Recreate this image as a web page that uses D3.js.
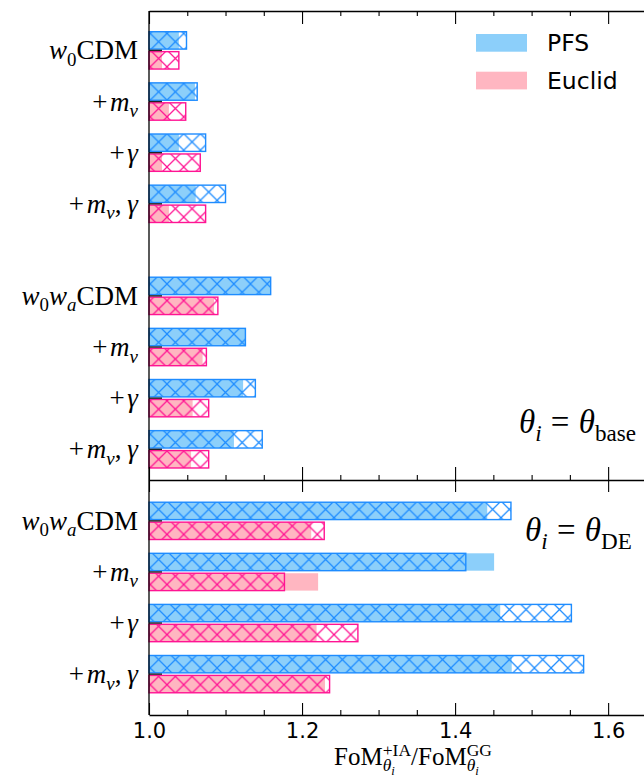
<!DOCTYPE html>
<html>
<head>
<meta charset="utf-8">
<script src="https://cdn.jsdelivr.net/npm/d3@7"></script>
<style>
  body { margin: 0; background: #fff; }
  svg { display: block; }
</style>
</head>
<body>
<svg id="chart" width="644" height="783"></svg>
<script>
// ---- data -------------------------------------------------------------
// rows, top to bottom
const modelsBase = ["w0CDM", "+mnu", "+gamma", "+mnu,gamma", "w0waCDM", "+mnu", "+gamma", "+mnu,gamma"];
const modelsDE = ["w0waCDM", "+mnu", "+gamma", "+mnu,gamma"];
const surveys = ["PFS", "Euclid"];

// FoM(+IA)/FoM(GG), theta_i = theta_base
// "solid" = filled bar, "hatch" = hatched outlined bar
const pfsSolidBase    = [1.039, 1.060, 1.039, 1.061, 1.159, 1.126, 1.123, 1.111];
const pfsHatchBase    = [1.049, 1.063, 1.074, 1.100, 1.159, 1.126, 1.139, 1.148];
const euclidSolidBase = [1.017, 1.026, 1.017, 1.026, 1.085, 1.070, 1.057, 1.055];
const euclidHatchBase = [1.039, 1.048, 1.067, 1.074, 1.090, 1.075, 1.078, 1.078];

// FoM(+IA)/FoM(GG), theta_i = theta_DE
const pfsSolidDE    = [1.442, 1.451, 1.459, 1.474];
const pfsHatchDE    = [1.473, 1.414, 1.552, 1.568];
const euclidSolidDE = [1.212, 1.221, 1.219, 1.230];
const euclidHatchDE = [1.229, 1.177, 1.273, 1.236];

// short reference dash drawn between the two bars of each row
const refDash = 1.017;

const xTicks = [1.0, 1.2, 1.4, 1.6];
const xMinorTicks = [1.05, 1.10, 1.15, 1.25, 1.30, 1.35, 1.45, 1.50, 1.55, 1.65];

// ---- styling ----------------------------------------------------------
const SERIF = "'Liberation Serif', 'Times New Roman', serif";
const SANS = "'DejaVu Sans', sans-serif";
const colors = {
  PFS:    { fill: "#8ccffa", edge: "#1e8cff" },
  Euclid: { fill: "#ffb6c1", edge: "#ff1493" }
};
const HATCH = 16.7;
const BAR_H = 0.34, BAR_GAP = 0.025;

const svg = d3.select("#chart");
const defs = svg.append("defs");

// cross-hatch pattern per survey
surveys.forEach(s => {
  const p = defs.append("pattern")
    .attr("id", "hatch-" + s)
    .attr("patternUnits", "userSpaceOnUse")
    .attr("width", HATCH).attr("height", HATCH);
  p.append("path")
    .attr("d", `M0,0L${HATCH},${HATCH}M0,${HATCH}L${HATCH},0`)
    .attr("stroke", colors[s].edge)
    .attr("stroke-width", 1.25)
    .attr("fill", "none");
});

// ---- scales -----------------------------------------------------------
const x = d3.scaleLinear().domain([1.0, 1.69]).range([149, 677]);
const yTopPanel = d3.scaleLinear().domain([-0.77, 8.4]).range([11, 480]);
const yBotPanel = d3.scaleLinear().domain([-0.8, 3.8]).range([480, 715]);

// ---- math-like labels -------------------------------------------------
const P = (t, it = false, o = {}) => Object.assign({ t, it }, o);
const mathLabels = {
  "w0CDM":      [{ base: [P("w", true)], sub: [P("0")] }, { base: [P("CDM")] }],
  "w0waCDM":    [{ base: [P("w", true)], sub: [P("0")] }, { base: [P("w", true)], sub: [P("a", true)] }, { base: [P("CDM")] }],
  "+mnu":       [{ base: [P("+", false, { post: 0.1 }), P("m", true)], sub: [P("ν", true)] }],
  "+gamma":     [{ base: [P("+", false, { post: 0.1 }), P("γ", true)] }],
  "+mnu,gamma": [{ base: [P("+", false, { post: 0.1 }), P("m", true)], sub: [P("ν", true)] },
                 { base: [P(",", false, { post: 0.22 }), P("γ", true)] }]
};
const thetaBase = [{ base: [P("θ", true)], sub: [P("i", true)] },
                   { base: [P("=", false, { pre: 0.28, post: 0.28 }), P("θ", true)], sub: [P("base")] }];
const thetaDE = [{ base: [P("θ", true)], sub: [P("i", true)] },
                 { base: [P("=", false, { pre: 0.28, post: 0.28 }), P("θ", true)], sub: [P("DE")] }];
const xLabelMath = [
  { base: [P("FoM")], sub: [P("θ", true), P("i", true, { deep: true })], sup: [P("+IA")] },
  { base: [P("/FoM")], sub: [P("θ", true), P("i", true, { deep: true })], sup: [P("GG")] }
];

function mathText(parent, tokens, xPos, baseline, size, anchor) {
  const g = parent.append("g").attr("transform", `translate(${xPos},${baseline})`);
  const text = g.append("text").attr("font-family", SERIF).attr("fill", "#000");
  let cursor = 0;
  const run = (pieces, x0, dy, fs) => {
    let cx = x0;
    pieces.forEach(p => {
      const f = p.deep ? fs * 0.72 : fs;
      const d = p.deep ? fs * 0.22 : 0;
      cx += (p.pre || 0) * fs;
      const ts = text.append("tspan")
        .attr("x", cx).attr("y", dy + d)
        .attr("font-size", f)
        .attr("font-style", p.it ? "italic" : "normal")
        .text(p.t);
      cx += ts.node().getComputedTextLength() + (p.post || 0) * fs;
    });
    return cx - x0;
  };
  tokens.forEach(tok => {
    cursor += run(tok.base || [], cursor, 0, size);
    const subW = tok.sub ? run(tok.sub, cursor, size * 0.24, size * 0.7) : 0;
    const supW = tok.sup ? run(tok.sup, cursor, -size * 0.37, size * 0.7) : 0;
    cursor += Math.max(subW, supW);
  });
  const shift = anchor === "end" ? -cursor : anchor === "middle" ? -cursor / 2 : 0;
  text.attr("transform", `translate(${shift},0)`);
  return g;
}

// ---- bars -------------------------------------------------------------
function drawPanel(y, models, rowPos, series) {
  const g = svg.append("g");
  const rows = models.map((m, i) => ({
    model: m,
    pos: rowPos(i),
    bars: [
      { survey: "PFS", solid: series.pfsSolid[i], hatch: series.pfsHatch[i], off: -(BAR_GAP + BAR_H) },
      { survey: "Euclid", solid: series.euclidSolid[i], hatch: series.euclidHatch[i], off: BAR_GAP }
    ]
  }));
  const barPx = y(BAR_H) - y(0);

  const row = g.selectAll("g.row").data(rows).join("g").attr("class", "row");

  const bar = row.selectAll("g.bar").data(r => r.bars.map(b => Object.assign({ pos: r.pos }, b)))
    .join("g").attr("class", "bar");

  bar.append("rect")
    .attr("x", x(1.0))
    .attr("y", d => y(d.pos + d.off))
    .attr("width", d => x(d.solid) - x(1.0))
    .attr("height", barPx)
    .attr("fill", d => colors[d.survey].fill);

  bar.append("rect")
    .attr("x", x(1.0))
    .attr("y", d => y(d.pos + d.off))
    .attr("width", d => x(d.hatch) - x(1.0))
    .attr("height", barPx)
    .attr("fill", d => `url(#hatch-${d.survey})`)
    .attr("stroke", d => colors[d.survey].edge)
    .attr("stroke-width", 1.4);

  row.append("line")
    .attr("x1", x(1.0)).attr("x2", x(refDash))
    .attr("y1", d => y(d.pos)).attr("y2", d => y(d.pos))
    .attr("stroke", "#222").attr("stroke-width", 1.4);

  // model labels on the left
  rows.forEach(r => mathText(svg, mathLabels[r.model], 138, y(r.pos) + 9, 27, "end"));
  return g;
}

drawPanel(yTopPanel, modelsBase, i => i + (i >= 4 ? 0.8 : 0), {
  pfsSolid: pfsSolidBase, pfsHatch: pfsHatchBase,
  euclidSolid: euclidSolidBase, euclidHatch: euclidHatchBase
});
drawPanel(yBotPanel, modelsDE, i => i, {
  pfsSolid: pfsSolidDE, pfsHatch: pfsHatchDE,
  euclidSolid: euclidSolidDE, euclidHatch: euclidHatchDE
});

// ---- axes -------------------------------------------------------------
function axis(gen, yPos, values, size, withLabels, keepDomain) {
  const a = gen(x).tickValues(values).tickSize(-size).tickSizeOuter(0);
  a.tickFormat(withLabels ? d3.format(".1f") : () => "");
  const g = svg.append("g").attr("transform", `translate(0,${yPos})`).call(a);
  if (!keepDomain) g.select(".domain").remove();
  g.selectAll(".domain").attr("stroke", "#000").attr("stroke-width", 1.3);
  g.selectAll(".tick line").attr("stroke", "#000").attr("stroke-width", 1.1);
  g.selectAll("text").attr("font-family", SANS).attr("font-size", 21).attr("fill", "#000");
  return g;
}
// top panel
axis(d3.axisTop, yTopPanel.range()[0], xTicks, 13, false, true);
axis(d3.axisTop, yTopPanel.range()[0], xMinorTicks, 5, false, false);
axis(d3.axisBottom, yTopPanel.range()[1], xTicks, 13, false, true);
axis(d3.axisBottom, yTopPanel.range()[1], xMinorTicks, 5, false, false);
// bottom panel
axis(d3.axisTop, yBotPanel.range()[0], xTicks, 12, false, false);
axis(d3.axisBottom, yBotPanel.range()[1], xTicks, 12, true, true)
  .call(g => g.selectAll(".tick text").attr("dy", "0.71em").attr("y", 8));
axis(d3.axisBottom, yBotPanel.range()[1], xMinorTicks, 5, false, false);

// left spine
svg.append("line")
  .attr("x1", x(1.0)).attr("x2", x(1.0))
  .attr("y1", yTopPanel.range()[0]).attr("y2", yBotPanel.range()[1])
  .attr("stroke", "#000").attr("stroke-width", 1.3);

// ---- annotations ------------------------------------------------------
mathText(svg, thetaBase, 636, 433, 33, "end");
mathText(svg, thetaDE, 525, 541, 33, "start");
mathText(svg, xLabelMath, (x.range()[0] + x.range()[1]) / 2, 765, 25, "middle");

// ---- legend -----------------------------------------------------------
const legend = svg.append("g").attr("transform", "translate(476,34)");
surveys.forEach((s, i) => {
  const item = legend.append("g").attr("transform", `translate(0,${i * 37.7})`);
  item.append("rect").attr("width", 51).attr("height", 17.7).attr("fill", colors[s].fill);
  item.append("text").attr("x", 71).attr("y", 17)
    .attr("font-family", SANS).attr("font-size", 23.5).attr("fill", "#000").text(s);
});
</script>
</body>
</html>
